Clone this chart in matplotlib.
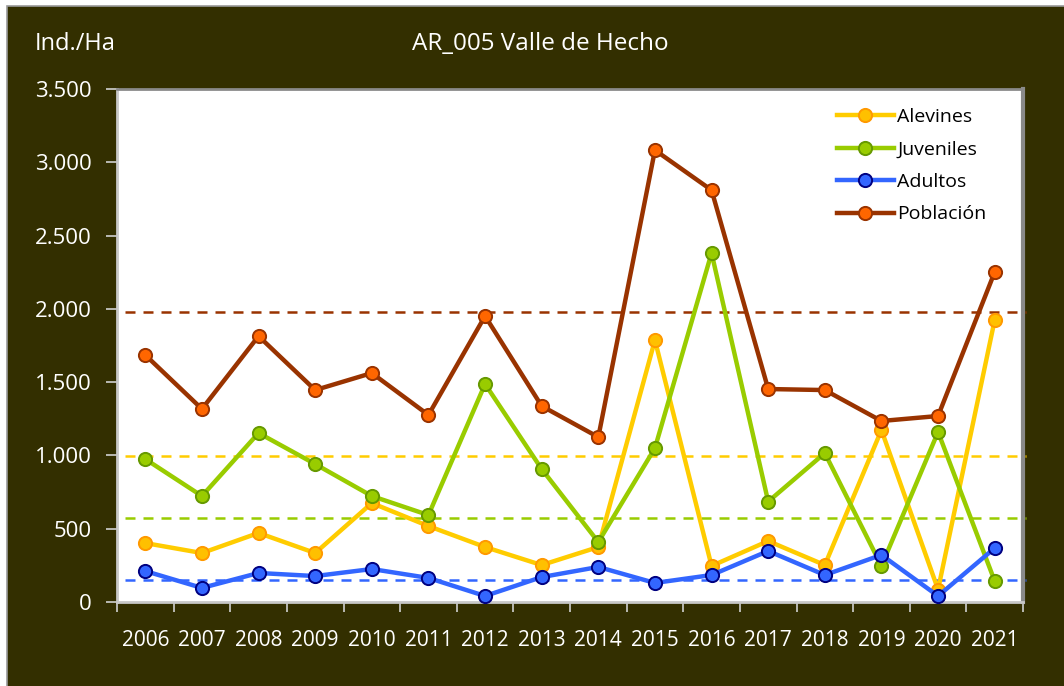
import matplotlib
matplotlib.use("Agg")
import matplotlib.pyplot as plt
from matplotlib.patches import Rectangle
from matplotlib.ticker import FuncFormatter, MultipleLocator, FixedLocator
import numpy as np

years = ["2006", "2007", "2008", "2009", "2010", "2011", "2012", "2013",
         "2014", "2015", "2016", "2017", "2018", "2019", "2020", "2021"]
alevines = [402, 334, 471, 334, 675, 518, 375, 252, 375, 1787, 246, 416, 252, 1173, 85, 1924]
juveniles = [975, 723, 1153, 941, 723, 593, 1487, 907, 409, 1050, 2381, 685, 1016, 246, 1160, 143]
adultos = [211, 96, 198, 177, 225, 164, 41, 170, 239, 130, 184, 348, 184, 321, 41, 368]
poblacion = [1685, 1317, 1814, 1446, 1562, 1276, 1951, 1337, 1125, 3083, 2810, 1453, 1446, 1235, 1269, 2251]
media_alevines = 996
media_juveniles = 573
media_adultos = 150
media_poblacion = 1978

title = "AR_005 Valle de Hecho"
ylabel = "Ind./Ha"

BG = "#332F00"
plt.rcParams["font.family"] = ["Open Sans", "DejaVu Sans"]

fig = plt.figure(figsize=(10.64, 6.86), dpi=100, facecolor="white")
bg = Rectangle((7 / 1064, -0.05), 1.05, 1 - 6 / 686 + 0.05, transform=fig.transFigure,
               facecolor=BG, edgecolor="#9a9a9a", linewidth=1.2, zorder=-10)
fig.patches.append(bg)

ax = fig.add_axes([117 / 1064, 1 - 602 / 686, (1023 - 117) / 1064, (602 - 89) / 686])
ax.set_zorder(5)
ax.set_facecolor("white")
x = np.arange(len(years))

series = [
    ("Alevines", alevines, "#FFCC00", "#FFC000", "#FF9900", media_alevines),
    ("Juveniles", juveniles, "#99CC00", "#99CC00", "#669900", media_juveniles),
    ("Adultos", adultos, "#3366FF", "#3366FF", "#000080", media_adultos),
    ("Población", poblacion, "#993300", "#FF6600", "#993300", media_poblacion),
]

xmin_d, xmax_d = -0.36, 15.55
for name, vals, lc, fc, ec, mean in series:
    ax.plot([xmin_d, xmax_d], [mean, mean], color=lc, lw=1.8, ls=(0, (4, 3.2)), zorder=2, clip_on=False)

for name, vals, lc, fc, ec, mean in series:
    ax.plot(x, vals, color=lc, lw=3.2, marker="o", markersize=9.5, markerfacecolor=fc,
            markeredgecolor=ec, markeredgewidth=1.4, label=name, zorder=3, clip_on=False)

ax.set_xlim(-0.5, len(years) - 0.5)
ax.set_ylim(0, 3500)
ax.yaxis.set_major_locator(MultipleLocator(500))
ax.yaxis.set_major_formatter(FuncFormatter(lambda v, p: f"{int(v):,}".replace(",", ".")))
ax.set_xticks(x)
ax.set_xticklabels(years)
ax.xaxis.set_minor_locator(FixedLocator(np.arange(-0.5, len(years), 1)))
ax.tick_params(axis="x", which="major", length=0, pad=20, labelsize=15, labelcolor="white")
ax.tick_params(axis="x", which="minor", length=7, width=1.2, color="#d0d0d0", direction="out")
ax.tick_params(axis="y", length=8, width=1.2, color="#d0d0d0", direction="out", pad=10,
               labelsize=16, labelcolor="white")

for s in ax.spines.values():
    s.set_color("#8a8a8a")
    s.set_linewidth(2)
ax.spines["left"].set_color("#c8c8c8")
ax.spines["bottom"].set_color("#c8c8c8")
ax.spines["right"].set_linewidth(3)

leg = ax.legend(loc="upper right", bbox_to_anchor=(0.975, 0.99), frameon=False, fontsize=14,
                handlelength=2.9, handletextpad=0.2, labelspacing=0.75, borderaxespad=0.3)

fig.text(540 / 1064, 1 - 44 / 686, title, color="white", fontsize=17.5, ha="center", va="center")
fig.text(35 / 1064, 1 - 44 / 686, ylabel, color="white", fontsize=17, ha="left", va="center")

fig.savefig("out.png", dpi=100, facecolor=fig.get_facecolor())
